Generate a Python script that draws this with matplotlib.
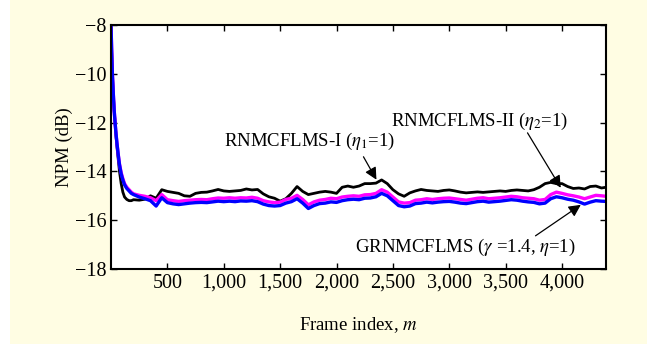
import matplotlib
matplotlib.use("Agg")
import matplotlib.pyplot as plt
from matplotlib.patches import Rectangle

plt.rcParams['font.family'] = ['Liberation Serif', 'DejaVu Serif']
plt.rcParams['mathtext.fontset'] = 'stix'

# frame index (dense at the start where the curves drop quickly)
frames = [0, 6, 12, 20, 28, 36, 45, 55, 65, 75, 90, 105, 120, 140, 160, 180] + \
         list(range(200, 4400, 50)) + [4390]

# RNMCFLMS-I (eta1=1), black
npm_rn1 = [-8.0, -9.1, -10.0, -10.8, -11.5, -12.0, -12.6, -13.1, -13.55, -14.0,
           -14.5, -14.85, -15.05, -15.15, -15.2, -15.2,
           -15.16, -15.18, -15.14, -15.0, -15.1, -14.75, -14.82, -14.86, -14.9, -15.0,
           -15.02, -14.9, -14.86, -14.85, -14.8, -14.74, -14.8, -14.82, -14.8, -14.78,
           -14.72, -14.76, -14.74, -14.92, -15.04, -15.1, -15.22, -15.12, -14.9, -14.62,
           -14.82, -14.95, -14.9, -14.85, -14.82, -14.85, -14.9, -14.65, -14.6, -14.65,
           -14.6, -14.5, -14.5, -14.48, -14.35, -14.5, -14.75, -14.92, -15.02, -14.88,
           -14.8, -14.74, -14.78, -14.8, -14.82, -14.78, -14.76, -14.8, -14.85, -14.88,
           -14.86, -14.84, -14.86, -14.84, -14.82, -14.8, -14.82, -14.78, -14.76, -14.78,
           -14.8, -14.75, -14.65, -14.5, -14.45, -14.5, -14.5, -14.62, -14.7, -14.68,
           -14.72, -14.62, -14.6, -14.68, -14.65]

# RNMCFLMS-II (eta2=1), magenta
npm_rn2 = [-8.0, -9.1, -10.0, -10.8, -11.5, -12.0, -12.5, -12.95, -13.35, -13.7,
           -14.05, -14.3, -14.5, -14.65, -14.75, -14.85,
           -14.92, -14.98, -15.02, -15.08, -15.2, -14.95, -15.16, -15.2, -15.23, -15.2,
           -15.18, -15.16, -15.15, -15.16, -15.12, -15.09, -15.1, -15.08, -15.1, -15.08,
           -15.09, -15.06, -15.1, -15.2, -15.25, -15.28, -15.26, -15.15, -15.1, -14.98,
           -15.15, -15.37, -15.25, -15.18, -15.15, -15.1, -15.12, -15.05, -15.02, -15.0,
           -15.02, -14.96, -14.95, -14.9, -14.75, -14.85, -15.05, -15.25, -15.3, -15.28,
           -15.18, -15.16, -15.12, -15.15, -15.12, -15.1, -15.09, -15.12, -15.15, -15.18,
           -15.14, -15.1, -15.08, -15.12, -15.1, -15.08, -15.05, -15.02, -15.04, -15.08,
           -15.1, -15.12, -15.18, -15.15, -14.95, -14.85, -14.9, -14.96, -15.0, -15.05,
           -15.12, -15.05, -14.98, -15.0, -15.02]

# GRNMCFLMS (gamma=1.4, eta=1), blue
npm_grn = [-8.0, -9.1, -10.0, -10.8, -11.5, -12.0, -12.5, -12.95, -13.35, -13.72,
           -14.1, -14.35, -14.55, -14.7, -14.8, -14.9,
           -14.95, -15.05, -15.12, -15.2, -15.42, -15.08, -15.28, -15.33, -15.36, -15.33,
           -15.3, -15.28, -15.27, -15.28, -15.25, -15.22, -15.24, -15.22, -15.24, -15.21,
           -15.22, -15.2, -15.24, -15.34, -15.4, -15.42, -15.4, -15.3, -15.24, -15.12,
           -15.3, -15.52, -15.4, -15.32, -15.3, -15.25, -15.27, -15.2, -15.16, -15.14,
           -15.16, -15.1, -15.09, -15.04, -14.9, -15.0, -15.2, -15.4, -15.45, -15.42,
           -15.32, -15.3, -15.26, -15.29, -15.26, -15.24, -15.23, -15.26, -15.3, -15.32,
           -15.28, -15.24, -15.22, -15.26, -15.24, -15.22, -15.19, -15.16, -15.18, -15.22,
           -15.25, -15.27, -15.33, -15.3, -15.12, -15.04, -15.08, -15.14, -15.18, -15.25,
           -15.34, -15.26, -15.2, -15.22, -15.23]

xticks = [500, 1000, 1500, 2000, 2500, 3000, 3500, 4000]
yticks = [-18, -16, -14, -12, -10, -8]

fig = plt.figure(figsize=(6.47, 3.45), dpi=100, facecolor='white')
fig.patches.append(Rectangle((10 / 647, 1 / 345), 1 - 10 / 647, 1, transform=fig.transFigure,
                             facecolor='#FFFDE3', edgecolor='none', zorder=-10))
ax = fig.add_axes([0.1716, 0.2203, 0.7650, 0.7072])
ax.set_facecolor('white')

ax.plot(frames, npm_rn1, color='black', lw=2.0)
ax.plot(frames, npm_rn2, color='#FF00FF', lw=2.4)
ax.plot(frames, npm_grn, color='#0000FF', lw=2.4)

ax.set_xlim(0, 4390)
ax.set_ylim(-18, -8)
ax.set_xticks(xticks)
ax.set_xticklabels([f"{t:,}" for t in xticks])
ax.set_yticks(yticks)
ax.tick_params(direction='in', top=True, right=True, length=4, width=1, labelsize=14.5)
for s in ax.spines.values():
    s.set_linewidth(1.5)

ax.set_xlabel('Frame index, $m$', fontsize=13.5, labelpad=16)
ax.set_ylabel('NPM (dB)', fontsize=13.5, labelpad=1)

# labels and arrows
arrow = dict(arrowstyle='-|>', color='black', lw=0.9, mutation_scale=18, shrinkA=0, shrinkB=0)
ax.text(1765, -12.79, 'RNMCFLMS-I ($\\eta_1$=1)', fontsize=13.5, ha='center', va='center')
ax.annotate('', xy=(2354, -14.34), xytext=(2239, -13.40), arrowprops=arrow)
ax.text(3265, -11.96, 'RNMCFLMS-II ($\\eta_2$=1)', fontsize=13.5, ha='center', va='center')
ax.annotate('', xy=(3989, -14.67), xytext=(3694, -12.42), arrowprops=arrow)
ax.text(3141, -17.13, 'GRNMCFLMS ($\\gamma$ =1.4, $\\eta$=1)', fontsize=13.5, ha='center', va='center')
ax.annotate('', xy=(4167, -15.37), xytext=(3765, -16.64), arrowprops=arrow)

fig.savefig('out.png', dpi=100, facecolor=fig.get_facecolor())
